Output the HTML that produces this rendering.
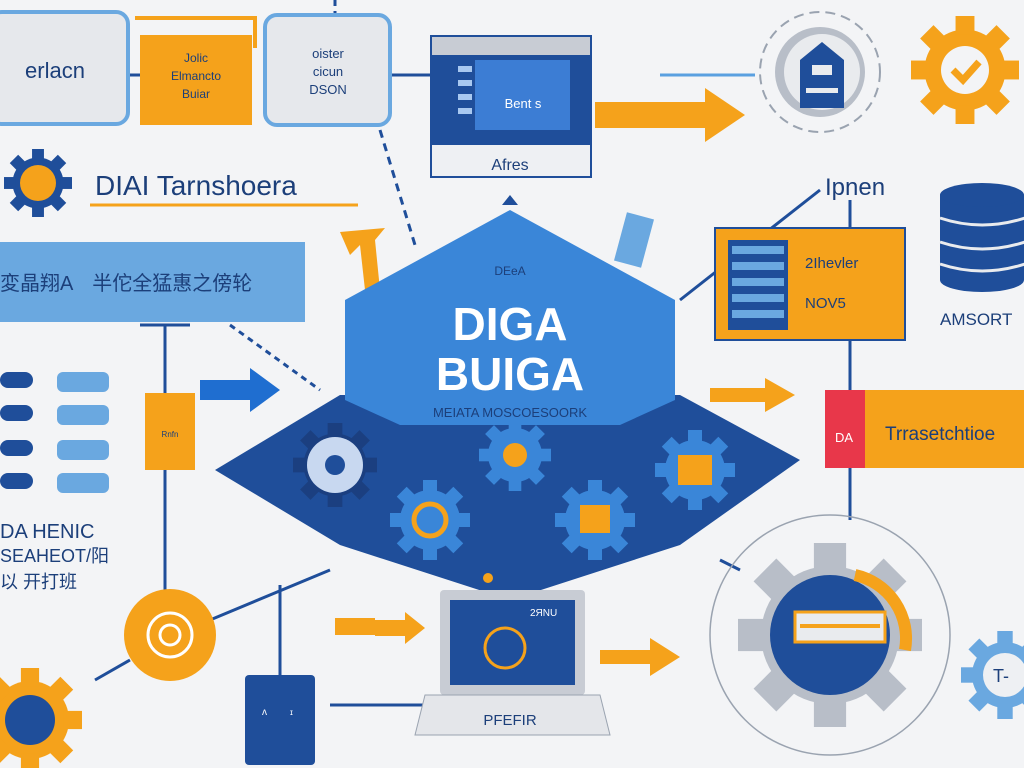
<!DOCTYPE html>
<html><head><meta charset="utf-8"><style>
html,body{margin:0;padding:0;background:#f3f4f6;width:1024px;height:768px;overflow:hidden}
svg{display:block}
text{font-family:"Liberation Sans","Noto Sans CJK SC",sans-serif}
</style></head><body>
<svg width="1024" height="768" viewBox="0 0 1024 768" xmlns="http://www.w3.org/2000/svg">
<defs>
<g id="gear"><circle r="30"/><g>
<rect x="-7" y="-40" width="14" height="14"/><rect x="-7" y="26" width="14" height="14"/>
<rect x="-40" y="-7" width="14" height="14"/><rect x="26" y="-7" width="14" height="14"/>
<rect x="-7" y="-40" width="14" height="14" transform="rotate(45)"/><rect x="-7" y="26" width="14" height="14" transform="rotate(45)"/>
<rect x="-40" y="-7" width="14" height="14" transform="rotate(45)"/><rect x="26" y="-7" width="14" height="14" transform="rotate(45)"/>
</g></g>
</defs>
<rect width="1024" height="768" fill="#f3f4f6"/>
<g stroke="#1f4e9a" stroke-width="3" fill="none">
<line x1="130" y1="75" x2="140" y2="75"/><line x1="390" y1="75" x2="430" y2="75"/>
<line x1="660" y1="75" x2="755" y2="75" stroke="#5aa0e0"/>
<line x1="165" y1="325" x2="165" y2="590"/>
<line x1="280" y1="585" x2="280" y2="675"/>
<line x1="850" y1="200" x2="850" y2="520"/>
<line x1="680" y1="300" x2="820" y2="190"/>
<line x1="330" y1="705" x2="440" y2="705"/>
<line x1="210" y1="620" x2="330" y2="570"/>
<line x1="95" y1="680" x2="130" y2="660"/>
<line x1="380" y1="130" x2="415" y2="245" stroke-dasharray="8 6"/>
<line x1="335" y1="0" x2="335" y2="15" stroke-dasharray="6 5"/>
<line x1="230" y1="325" x2="320" y2="390" stroke-dasharray="6 5"/>
<line x1="140" y1="325" x2="190" y2="325"/>
<line x1="720" y1="560" x2="740" y2="570"/>
</g>
<rect x="-10" y="12" width="138" height="112" rx="12" fill="#e6e8ec" stroke="#6aa8e0" stroke-width="4"/>
<text x="55" y="78" font-size="22" fill="#1c3f7a" text-anchor="middle">erlacn</text>
<rect x="140" y="35" width="112" height="90" fill="#f5a21b"/>
<path d="M135 18 h120 v30" fill="none" stroke="#f5a21b" stroke-width="4"/>
<text x="196" y="62" font-size="12" fill="#1c3f7a" text-anchor="middle">Jolic</text>
<text x="196" y="80" font-size="12" fill="#1c3f7a" text-anchor="middle">Elmancto</text>
<text x="196" y="98" font-size="12" fill="#1c3f7a" text-anchor="middle">Buiar</text>
<rect x="265" y="15" width="125" height="110" rx="12" fill="#e6e8ec" stroke="#6aa8e0" stroke-width="4"/>
<text x="328" y="58" font-size="13" fill="#1c3f7a" text-anchor="middle">oister</text>
<text x="328" y="76" font-size="13" fill="#1c3f7a" text-anchor="middle">cicun</text>
<text x="328" y="94" font-size="13" fill="#1c3f7a" text-anchor="middle">DSON</text>
<rect x="430" y="35" width="162" height="143" fill="#1f4e9a"/>
<rect x="432" y="37" width="158" height="18" fill="#c8ccd4"/>
<rect x="455" y="60" width="115" height="70" fill="#3c7dd4"/>
<rect x="455" y="60" width="20" height="70" fill="#1f4e9a"/>
<g fill="#a8c8f0"><rect x="458" y="66" width="14" height="6"/><rect x="458" y="80" width="14" height="6"/><rect x="458" y="94" width="14" height="6"/><rect x="458" y="108" width="14" height="6"/></g>
<text x="523" y="108" font-size="13" fill="#fff" text-anchor="middle">Bent s</text>
<rect x="432" y="145" width="158" height="31" fill="#eef0f3"/>
<text x="510" y="170" font-size="16" fill="#1c3f7a" text-anchor="middle">Afres</text>
<polygon points="595,102 705,102 705,88 745,115 705,142 705,128 595,128" fill="#f5a21b"/>
<circle cx="820" cy="72" r="60" fill="none" stroke="#9aa3b0" stroke-width="2" stroke-dasharray="10 6"/>
<circle cx="820" cy="72" r="45" fill="#b8bec8"/><circle cx="822" cy="72" r="38" fill="#e9ebee"/>
<polygon points="800,60 822,42 844,60 844,108 800,108" fill="#1f4e9a"/>
<rect x="812" y="65" width="20" height="10" fill="#e9ebee"/><rect x="806" y="88" width="32" height="5" fill="#e9ebee"/>
<g transform="translate(965,70) scale(1.35)" fill="#f5a21b"><use href="#gear"/></g>
<circle cx="965" cy="70" r="24" fill="#f3f4f6"/>
<path d="M953 70 l10 10 l16 -18" stroke="#f5a21b" stroke-width="7" fill="none"/>
<text x="825" y="195" font-size="24" fill="#1c3f7a">Ipnen</text>
<g fill="#1f4e9a">
<rect x="940" y="195" width="85" height="85"/><ellipse cx="982" cy="195" rx="42" ry="12"/><ellipse cx="982" cy="280" rx="42" ry="12"/>
</g>
<g stroke="#e9ebee" stroke-width="3" fill="none"><path d="M940 218 q42 14 85 0"/><path d="M940 242 q42 14 85 0"/><path d="M940 264 q42 14 85 0"/></g>
<text x="940" y="325" font-size="17" fill="#1c3f7a">AMSORT</text>
<rect x="715" y="228" width="190" height="112" fill="#f5a21b" stroke="#1f4e9a" stroke-width="2"/>
<rect x="728" y="240" width="60" height="90" fill="#1f4e9a"/>
<g fill="#6aa8e0"><rect x="732" y="246" width="52" height="8"/><rect x="732" y="262" width="52" height="8"/><rect x="732" y="278" width="52" height="8"/><rect x="732" y="294" width="52" height="8"/><rect x="732" y="310" width="52" height="8"/></g>
<text x="805" y="268" font-size="15" fill="#1c3f7a">2Ihevler</text>
<text x="805" y="308" font-size="15" fill="#1c3f7a">NOV5</text>
<rect x="825" y="390" width="210" height="78" fill="#f5a21b"/>
<rect x="825" y="390" width="40" height="78" fill="#e8374a"/>
<text x="835" y="442" font-size="13" fill="#fff">DA</text>
<text x="885" y="440" font-size="19" fill="#1c3f7a">Trrasetchtioe</text>
<polygon points="710,388 765,388 765,378 795,395 765,412 765,402 710,402" fill="#f5a21b"/>
<circle cx="830" cy="635" r="120" fill="none" stroke="#9aa3b0" stroke-width="1.5"/>
<g transform="translate(830,635) scale(2.3)" fill="#b8bec8"><use href="#gear"/></g>
<circle cx="830" cy="635" r="60" fill="#1f4e9a"/>
<path d="M855 575 a65 65 0 0 1 50 75" stroke="#f5a21b" stroke-width="12" fill="none"/>
<rect x="795" y="612" width="90" height="30" fill="#e9ebee" stroke="#f5a21b" stroke-width="3"/>
<rect x="800" y="624" width="80" height="4" fill="#f5a21b"/>
<g transform="translate(1005,675) scale(1.1)" fill="#6aa8e0"><use href="#gear"/></g>
<circle cx="1005" cy="675" r="22" fill="#eef0f3"/>
<text x="993" y="682" font-size="18" fill="#1c3f7a">T-</text>
<polygon points="600,650 650,650 650,638 680,657 650,676 650,664 600,664" fill="#f5a21b"/>
<g transform="translate(38,183) scale(0.85)" fill="#1f4e9a"><use href="#gear"/></g>
<circle cx="38" cy="183" r="18" fill="#f5a21b"/>
<text x="95" y="195" font-size="28" fill="#1c3f7a">DIAI Tarnshoera</text>
<line x1="90" y1="205" x2="358" y2="205" stroke="#f5a21b" stroke-width="3"/>
<rect x="-5" y="242" width="310" height="80" fill="#6aa8e0"/>
<text x="0" y="290" font-size="20" fill="#1c3f7a">変晶翔A　半佗全猛惠之傍轮</text>
<polygon points="340,232 385,228 375,240 380,290 365,290 360,245 350,255" fill="#f5a21b"/>
<g fill="#1f4e9a"><rect x="0" y="372" width="33" height="16" rx="8"/><rect x="0" y="405" width="33" height="16" rx="8"/><rect x="0" y="440" width="33" height="16" rx="8"/><rect x="0" y="473" width="33" height="16" rx="8"/></g>
<g fill="#6aa8e0"><rect x="57" y="372" width="52" height="20" rx="6"/><rect x="57" y="405" width="52" height="20" rx="6"/><rect x="57" y="440" width="52" height="20" rx="6"/><rect x="57" y="473" width="52" height="20" rx="6"/></g>
<text x="0" y="538" font-size="20" fill="#1c3f7a">DA HENIC</text>
<text x="0" y="562" font-size="18" fill="#1c3f7a">SEAHEOT/阳</text>
<text x="0" y="588" font-size="18" fill="#1c3f7a">以 开打班</text>
<rect x="145" y="393" width="50" height="77" fill="#f5a21b"/>
<text x="170" y="437" font-size="8" fill="#1c3f7a" text-anchor="middle">Rnfn</text>
<polygon points="200,380 250,380 250,368 280,390 250,412 250,400 200,400" fill="#1f6ed0"/>
<circle cx="170" cy="635" r="46" fill="#f5a21b"/>
<circle cx="170" cy="635" r="22" fill="none" stroke="#fff" stroke-width="3"/>
<circle cx="170" cy="635" r="10" fill="none" stroke="#fff" stroke-width="3"/>
<g transform="translate(30,720) scale(1.3)" fill="#f5a21b"><use href="#gear"/></g>
<circle cx="30" cy="720" r="25" fill="#1f4e9a"/>
<rect x="245" y="675" width="70" height="90" rx="4" fill="#1f4e9a"/>
<text x="262" y="715" font-size="10" fill="#fff">ʌ</text>
<text x="290" y="715" font-size="8" fill="#fff">ɪ</text>
<polygon points="335,618 375,618 375,635 335,635" fill="#f5a21b"/>
<polygon points="375,620 405,620 405,612 425,628 405,644 405,636 375,636" fill="#f5a21b"/>
<polygon points="215,470 340,395 680,395 800,460 680,545 510,600 340,545" fill="#1f4e9a"/>
<polygon points="345,300 510,210 675,300 675,400 620,425 400,425 345,400" fill="#3a86d8"/>
<polygon points="502,205 518,205 510,195" fill="#1f4e9a"/>
<text x="510" y="275" font-size="12" fill="#1c3f7a" text-anchor="middle">DEeA</text>
<text x="510" y="340" font-size="46" font-weight="bold" fill="#fff" text-anchor="middle">DIGA</text>
<text x="510" y="390" font-size="46" font-weight="bold" fill="#fff" text-anchor="middle">BUIGA</text>
<text x="510" y="417" font-size="13" fill="#1c3f7a" text-anchor="middle">MEIATA MOSCOESOORK</text>
<g transform="translate(335,465) scale(1.05)" fill="#1b3f80"><use href="#gear"/></g>
<circle cx="335" cy="465" r="28" fill="#c8d8f0"/><circle cx="335" cy="465" r="10" fill="#1f4e9a"/>
<g transform="translate(515,455) scale(0.9)" fill="#3a86d8"><use href="#gear"/></g>
<circle cx="515" cy="455" r="12" fill="#f5a21b"/>
<g transform="translate(695,470) scale(1)" fill="#3a86d8"><use href="#gear"/></g>
<rect x="678" y="455" width="34" height="30" fill="#f5a21b"/>
<g transform="translate(430,520) scale(1)" fill="#3a86d8"><use href="#gear"/></g>
<circle cx="430" cy="520" r="16" fill="none" stroke="#f5a21b" stroke-width="5"/>
<g transform="translate(595,520) scale(1)" fill="#3a86d8"><use href="#gear"/></g>
<rect x="580" y="505" width="30" height="28" fill="#f5a21b"/>
<rect x="620" y="215" width="28" height="50" fill="#6aa8e0" transform="rotate(15 634 240)"/>
<rect x="440" y="590" width="145" height="105" rx="4" fill="#c8ccd4"/>
<rect x="450" y="600" width="125" height="85" fill="#1f4e9a"/>
<text x="530" y="616" font-size="10" fill="#fff">2ЯNU</text>
<circle cx="505" cy="648" r="20" fill="none" stroke="#f5a21b" stroke-width="3"/>
<polygon points="425,695 600,695 610,735 415,735" fill="#e4e6ea" stroke="#9aa3b0"/>
<text x="510" y="725" font-size="15" fill="#1c3f7a" text-anchor="middle">PFEFIR</text>
<circle cx="488" cy="578" r="5" fill="#f5a21b"/>
</svg>
</body></html>
